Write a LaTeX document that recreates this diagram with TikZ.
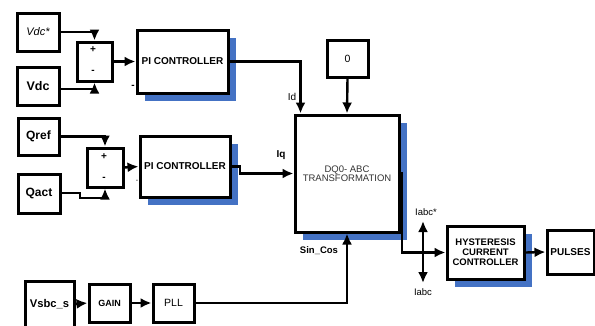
\documentclass[tikz,border=0pt]{standalone}
\usepackage{fontspec}
\setmainfont{Liberation Sans}
\usetikzlibrary{arrows.meta,shadows}
\definecolor{shadowc}{HTML}{4472C4}
\tikzset{
  blk/.style={draw, line width=3pt, fill=white, inner sep=0pt, align=center},
  shd/.style={drop shadow={shadow xshift=8pt, shadow yshift=-8pt, fill=shadowc, opacity=1}},
  wire/.style={line width=2.4pt},
  tip/.tip={Latex[length=11pt,width=10pt]},
  arr/.style={wire, -tip},
  bf/.style={font=\bfseries\fontsize{#1}{#1}\selectfont},
  rg/.style={font=\fontsize{#1}{#1}\selectfont},
}
\begin{document}
\begin{tikzpicture}[x=1pt,y=-1pt]
\useasboundingbox (0,0) rectangle (595,325);
% input blocks
\node[blk, minimum width=42, minimum height=38, rg=11] (vdcs) at (38,32) {\itshape Vdc*};
\node[blk, minimum width=42, minimum height=38, bf=12.5] (vdc) at (38,86) {Vdc};
\node[blk, minimum width=35, minimum height=39] (sum1) at (94.5,61.5) {};
\node[blk, shd, minimum width=91, minimum height=63, bf=10] (pi1) at (182.5,61.5) {PI CONTROLLER};
\node[blk, minimum width=41, minimum height=37, bf=12] (qref) at (38.5,136.5) {Qref};
\node[blk, minimum width=42, minimum height=39, bf=12] (qact) at (39,193.5) {Qact};
\node[blk, minimum width=36, minimum height=39] (sum2) at (105,167.5) {};
\node[blk, shd, minimum width=90, minimum height=61, bf=10] (pi2) at (185,166.5) {PI CONTROLLER};
\node[blk, minimum width=41, minimum height=37, rg=10.5] (zero) at (347.5,58.5) {0};
\node[blk, shd, minimum width=104, minimum height=117, rg=9.5, text=black!80] (dq0) at (347,173.5) {DQ0- ABC\\[-1pt]TRANSFORMATION};
\node[blk, shd, minimum width=77, minimum height=53, bf=9.5] (hyst) at (485.5,252.5) {HYSTERESIS\\[0.5pt]CURRENT\\[0.5pt]CONTROLLER};
\node[blk, minimum width=47, minimum height=44, bf=10] (pulses) at (570.5,252) {PULSES};
\node[blk, minimum width=49, minimum height=46, bf=11.2] (vsbc) at (49.5,304) {Vsbc\_s};
\node[blk, minimum width=41, minimum height=38, bf=9] (gain) at (109.5,303) {GAIN};
\node[blk, minimum width=41, minimum height=38, rg=10.5] (pll) at (173.5,303) {PLL};
% sum signs
\node[bf=10] (p1) at (93,50) {+};
\node[bf=10] (m1) at (93,72) {-};
\node[bf=10] (p2) at (104,157) {+};
\node[bf=10] (m2) at (104,179) {-};
\node[bf=10] (m3) at (133,87) {-};
\node[rg=7] (m4) at (137,181) {-};
% coordinates
\coordinate (q1) at (80,193);
\coordinate (q2) at (80,198);
\coordinate (z1) at (240,166.5);
\coordinate (z2) at (240,173.5);
\coordinate (d1) at (402,173.5);
\coordinate (d2) at (402,252.5);
\coordinate (iu) at (423,221);
\coordinate (id) at (423,283);
\coordinate (idq) at ([xshift=7pt]dq0.north west);
% connectors
\draw[arr] (vdcs.east) -| (sum1.north);
\draw[arr] (vdc.east |- 0,89) -| (sum1.south);
\draw[arr] (sum1.east) -- (pi1.west);
\draw[arr] (pi1.east) -| (idq);
\draw[arr] (zero.south) -- (dq0.north);
\draw[arr] (qref.east) -| (sum2.north);
\draw[arr] (qact.east |- q1) -- (q1) -- (q2) -| (sum2.south);
\draw[arr] (sum2.east) -- (pi2.west);
\draw[arr] (pi2.east) -- (z1) -- (z2) -- (dq0.west);
\draw[arr] (dq0.east |- d1) -- (d1) -- (d2) -- (hyst.west);
\draw[wire, tip-tip] (iu) -- (id);
\draw[arr] (hyst.east) -- (pulses.west);
\draw[arr] (vsbc.east) -- (gain.west);
\draw[arr] (gain.east) -- (pll.west);
\draw[arr] (pll.east) -| (dq0.south);
% labels
\node[rg=10] (lid) at (292,97) {Id};
\node[bf=10] (liq) at (281,155) {Iq};
\node[bf=9.5] (lsc) at (319,251) {Sin\_Cos};
\node[rg=9.5] (lia) at (426,212) {Iabc*};
\node[rg=9.5] (lib) at (423,292) {Iabc};
\end{tikzpicture}
\end{document}
